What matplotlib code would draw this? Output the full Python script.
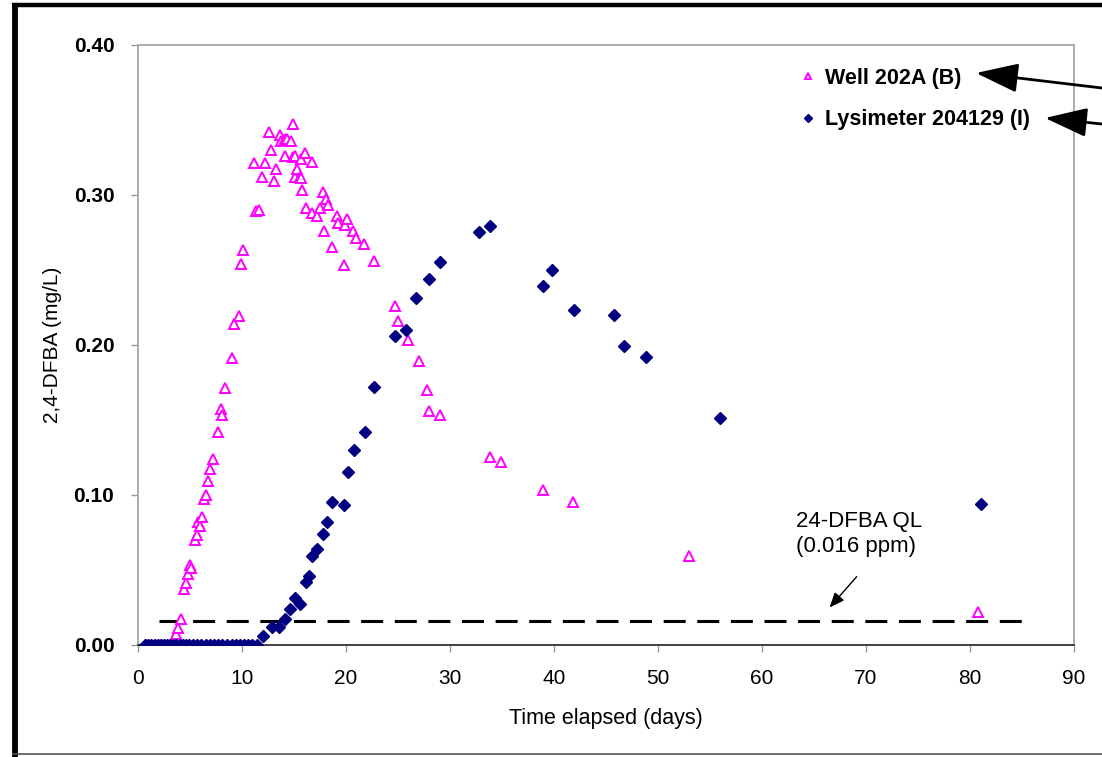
import numpy as np
import matplotlib
matplotlib.use("Agg")
import matplotlib.pyplot as plt
from matplotlib.lines import Line2D

plt.rcParams['font.family'] = ['Liberation Sans', 'DejaVu Sans']

# Well 202A (B) - open magenta triangles
well_days = [0.8, 1.5, 2.2, 2.9, 3.4, 3.65, 3.85, 4.1, 4.4, 4.6, 4.8, 5.0, 5.1, 5.5, 5.7,
             5.8, 6.0, 6.15, 6.35, 6.5, 6.7, 6.9, 7.2, 7.7, 8.0, 8.1, 8.4, 9.0, 9.2, 9.7,
             9.9, 10.1, 11.15, 11.35, 11.6, 11.9, 12.2, 12.6, 12.8, 13.1, 13.3, 13.65, 13.8,
             14.1, 14.1, 14.3, 14.7, 14.9, 14.9, 15.1, 15.1, 15.3, 15.6, 15.7, 15.7, 15.8,
             16.05, 16.15, 16.7, 16.7, 17.2, 17.5, 17.75, 17.9, 18.1, 18.3, 18.7, 19.1, 19.2,
             19.8, 19.9, 20.1, 20.7, 21.0, 21.7, 22.7, 24.7, 25.0, 26.0, 27.0, 27.8, 28.0,
             29.0, 33.8, 34.9, 38.9, 41.8, 53.0, 80.8]
well_conc = [0.0, 0.0, 0.0, 0.0, 0.0, 0.007, 0.011, 0.017, 0.037, 0.041, 0.047, 0.053, 0.051,
             0.070, 0.073, 0.082, 0.079, 0.085, 0.097, 0.100, 0.109, 0.117, 0.124, 0.142,
             0.157, 0.153, 0.171, 0.191, 0.214, 0.219, 0.254, 0.263, 0.321, 0.289, 0.290,
             0.312, 0.321, 0.342, 0.330, 0.309, 0.317, 0.340, 0.336, 0.337, 0.326, 0.337,
             0.336, 0.347, 0.325, 0.312, 0.326, 0.317, 0.312, 0.324, 0.311, 0.303, 0.328,
             0.291, 0.288, 0.322, 0.286, 0.291, 0.302, 0.276, 0.297, 0.293, 0.265, 0.286,
             0.281, 0.253, 0.280, 0.284, 0.276, 0.271, 0.267, 0.256, 0.226, 0.216, 0.203,
             0.189, 0.170, 0.156, 0.153, 0.125, 0.122, 0.103, 0.095, 0.059, 0.022]

# Lysimeter 204129 (I) - filled navy diamonds
lys_days = [0.7, 1.0, 1.3, 1.6, 1.9, 2.2, 2.5, 2.8, 3.1, 3.4, 3.7, 4.0, 4.3, 4.6, 4.9, 5.3,
            5.7, 6.1, 6.5, 6.9, 7.3, 7.7, 8.1, 8.6, 9.0, 9.4, 9.8, 10.2, 10.6, 11.0, 11.4,
            12.0, 12.9, 13.6, 14.1, 14.6, 15.1, 15.6, 16.15, 16.45, 16.7, 17.2, 17.75, 18.2,
            18.7, 19.8, 20.2, 20.8, 21.8, 22.7, 24.7, 25.8, 26.7, 28.0, 29.0, 32.8, 33.8,
            38.9, 39.8, 41.9, 45.8, 46.7, 48.8, 56.0, 81.1]
lys_conc = [0.0] * 31 + [0.006, 0.012, 0.012, 0.017, 0.024, 0.031, 0.027, 0.042, 0.046,
                         0.059, 0.064, 0.074, 0.082, 0.095, 0.093, 0.115, 0.130, 0.142,
                         0.172, 0.206, 0.210, 0.231, 0.244, 0.255, 0.275, 0.279, 0.239,
                         0.250, 0.223, 0.220, 0.199, 0.192, 0.151, 0.094]

ql_value = 0.016
ql_days = [2.0, 85.0]

fig = plt.figure(figsize=(11.02, 7.57), dpi=100)
ax = fig.add_axes([0.1252, 0.148, 0.8494, 0.7926])

ax.plot(well_days, well_conc, linestyle='none', marker='^', markersize=7,
        markerfacecolor='white', markeredgecolor='#ff00ff', markeredgewidth=1.4,
        label='Well 202A (B)', zorder=3)
ax.plot(lys_days, lys_conc, linestyle='none', marker='D', markersize=6.3,
        color='#000080', label='Lysimeter 204129 (I)', zorder=4)
ax.plot(ql_days, [ql_value, ql_value], color='black', lw=2.2, dashes=(7.2, 3.8), zorder=2)

ax.set_xlim(0, 90)
ax.set_ylim(0, 0.40)
ax.set_xticks(np.arange(0, 91, 10))
ax.set_yticks(np.arange(0, 0.41, 0.1))
ax.set_yticklabels(['%.2f' % v for v in np.arange(0, 0.41, 0.1)], fontweight='bold')
ax.tick_params(axis='both', labelsize=15, length=5, width=1, color='#999999', direction='out')
ax.tick_params(axis='x', pad=12)
ax.tick_params(axis='y', pad=12)

for s in ['left', 'top', 'right']:
    ax.spines[s].set_color('#a6a6a6')
    ax.spines[s].set_linewidth(1.3)
ax.spines['bottom'].set_color('#333333')
ax.spines['bottom'].set_linewidth(1.3)

ax.set_xlabel('Time elapsed (days)', fontsize=15.5, labelpad=15)
ax.set_ylabel('2,4-DFBA (mg/L)', fontsize=15, labelpad=8)

leg = ax.legend(loc='upper left', bbox_to_anchor=(0.6975, 0.98), frameon=False,
                prop={'size': 15.5, 'weight': 'bold'}, handlelength=0.6, handletextpad=0.5,
                labelspacing=0.95, markerscale=0.7, borderpad=0)

# QL annotation
ax.text(63.3, 0.0895, '24-DFBA QL\n(0.016 ppm)', fontsize=16, ha='left', va='top', linespacing=1.25)
ax.annotate('', xy=(66.5, 0.025), xytext=(69.1, 0.0455),
            arrowprops=dict(arrowstyle='-|>,head_length=0.6,head_width=0.25', color='black',
                            lw=1, shrinkA=0, shrinkB=0, mutation_scale=15))

# big arrows coming in from the right edge
W, H = 1102.0, 757.0
ax.annotate('', xy=(976 / W, 1 - 73 / H), xytext=(1102 / W, 1 - 88 / H),
            xycoords='figure fraction', textcoords='figure fraction', annotation_clip=False,
            arrowprops=dict(arrowstyle='-|>,head_length=1.3,head_width=0.45', color='black',
                            lw=2, shrinkA=0, shrinkB=0, mutation_scale=20))
ax.annotate('', xy=(1045 / W, 1 - 118 / H), xytext=(1102 / W, 1 - 124 / H),
            xycoords='figure fraction', textcoords='figure fraction', annotation_clip=False,
            arrowprops=dict(arrowstyle='-|>,head_length=1.3,head_width=0.45', color='black',
                            lw=2, shrinkA=0, shrinkB=0, mutation_scale=20))

# frame around the figure (left + top heavy, bottom thin)
fig.add_artist(Line2D([14.5 / W, 14.5 / W], [0, 1 - 3 / H], transform=fig.transFigure,
                      color='black', lw=4.2, solid_capstyle='butt'))
fig.add_artist(Line2D([12 / W, 1], [1 - 5 / H, 1 - 5 / H], transform=fig.transFigure,
                      color='black', lw=3.2, solid_capstyle='butt'))
fig.add_artist(Line2D([12 / W, 1], [1 - 754 / H, 1 - 754 / H], transform=fig.transFigure,
                      color='#555555', lw=1.2, solid_capstyle='butt'))

fig.savefig('out.png', dpi=100)
